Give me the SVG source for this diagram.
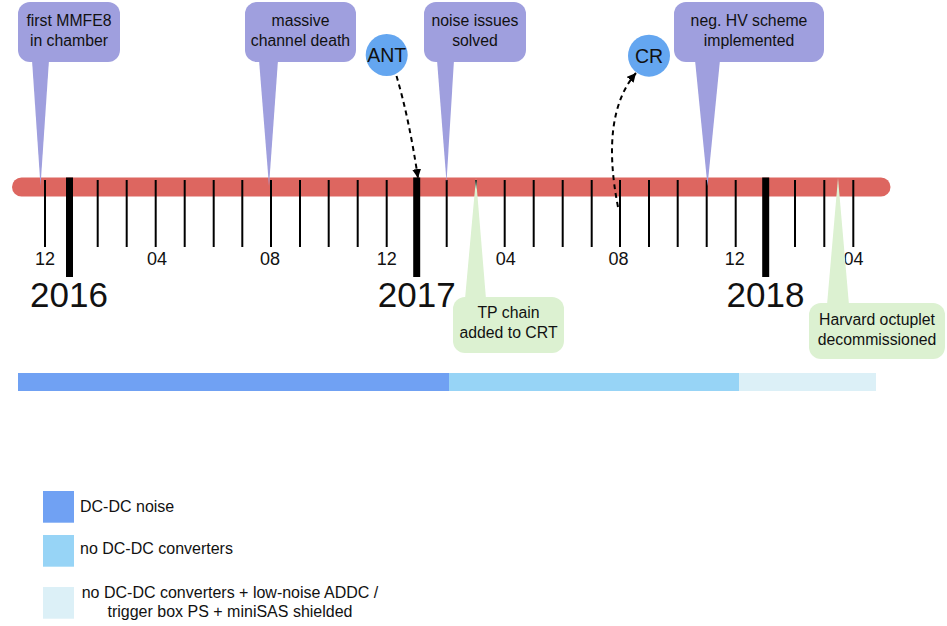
<svg xmlns="http://www.w3.org/2000/svg" width="947" height="626" viewBox="0 0 947 626">
<style>
text{font-family:"Liberation Sans",Arial,sans-serif;fill:#111}
.ct{font-size:15.8px;text-anchor:middle}
.pu{fill:#9F9FDE}
.gr{fill:#DCF1D1}
.tk{stroke:#000;stroke-width:2}
.ty{stroke:#000;stroke-width:7}
.mo{font-size:18px;text-anchor:middle}
.yr{font-size:35px;text-anchor:middle}
.lg{font-size:16px}
.dash{fill:none;stroke:#000;stroke-width:2;stroke-dasharray:5,4}
.circ{fill:#64A6F0}
</style>
<defs>
<marker id="ah" viewBox="0 0 10 10" refX="10" refY="5" markerWidth="4.5" markerHeight="4.5" orient="auto" markerUnits="strokeWidth">
<path d="M0,0 L10,5 L0,10 z" fill="#000"/>
</marker>
</defs>
<g id="timeline">
<rect x="12" y="177.5" width="878.5" height="19" rx="9.5" fill="#DD6660"/>
<g id="ticks">
<line class="tk" x1="45" y1="180" x2="45" y2="247"/>
<line class="tk" x1="97.7" y1="180" x2="97.7" y2="247"/>
<line class="tk" x1="126.7" y1="180" x2="126.7" y2="247"/>
<line class="tk" x1="155.7" y1="180" x2="155.7" y2="247"/>
<line class="tk" x1="184.7" y1="180" x2="184.7" y2="247"/>
<line class="tk" x1="213.7" y1="180" x2="213.7" y2="247"/>
<line class="tk" x1="242.3" y1="180" x2="242.3" y2="247"/>
<line class="tk" x1="271" y1="180" x2="271" y2="247"/>
<line class="tk" x1="300" y1="180" x2="300" y2="247"/>
<line class="tk" x1="328.7" y1="180" x2="328.7" y2="247"/>
<line class="tk" x1="357.7" y1="180" x2="357.7" y2="247"/>
<line class="tk" x1="386.7" y1="180" x2="386.7" y2="247"/>
<line class="tk" x1="446.7" y1="180" x2="446.7" y2="247"/>
<line class="tk" x1="476" y1="180" x2="476" y2="247"/>
<line class="tk" x1="504.7" y1="180" x2="504.7" y2="247"/>
<line class="tk" x1="533.7" y1="180" x2="533.7" y2="247"/>
<line class="tk" x1="562.7" y1="180" x2="562.7" y2="247"/>
<line class="tk" x1="591.7" y1="180" x2="591.7" y2="247"/>
<line class="tk" x1="620" y1="180" x2="620" y2="247"/>
<line class="tk" x1="649" y1="180" x2="649" y2="247"/>
<line class="tk" x1="677.7" y1="180" x2="677.7" y2="247"/>
<line class="tk" x1="706.7" y1="180" x2="706.7" y2="247"/>
<line class="tk" x1="735.7" y1="180" x2="735.7" y2="247"/>
<line class="tk" x1="795" y1="180" x2="795" y2="247"/>
<line class="tk" x1="824.3" y1="180" x2="824.3" y2="247"/>
<line class="tk" x1="853.3" y1="180" x2="853.3" y2="247"/>
<line class="ty" x1="69.5" y1="177.5" x2="69.5" y2="277"/>
<line class="ty" x1="416.7" y1="177.5" x2="416.7" y2="277"/>
<line class="ty" x1="765.7" y1="177.5" x2="765.7" y2="277"/>
</g>
<g id="month-labels">
<text class="mo" x="45" y="264.5">12</text>
<text class="mo" x="157" y="264.5">04</text>
<text class="mo" x="270" y="264.5">08</text>
<text class="mo" x="386.7" y="264.5">12</text>
<text class="mo" x="505.8" y="264.5">04</text>
<text class="mo" x="618.5" y="264.5">08</text>
<text class="mo" x="734.7" y="264.5">12</text>
<text class="mo" x="853.5" y="264.5">04</text>
</g>
<g id="year-labels">
<text class="yr" x="69" y="306.5">2016</text>
<text class="yr" x="416.7" y="306.5">2017</text>
<text class="yr" x="765.5" y="306.5">2018</text>
</g>
</g>
<g id="connectors">
<path class="dash" d="M396.5,76 Q409,118 418,178" marker-end="url(#ah)"/>
<path class="dash" d="M618,207 Q600,115 636,73" marker-end="url(#ah)"/>
</g>
<g id="callout-mmfe8">
<rect class="pu" x="18" y="2" width="102" height="60" rx="12"/>
<polygon class="pu" points="32,60 49,60 40.5,186"/>
<text class="ct" x="69" y="26">first MMFE8</text>
<text class="ct" x="69" y="45.5">in chamber</text>
</g>
<g id="callout-channel-death">
<rect class="pu" x="245" y="2" width="111" height="60" rx="12"/>
<polygon class="pu" points="259,60 278,60 269,186"/>
<text class="ct" x="300.5" y="26">massive</text>
<text class="ct" x="300.5" y="45.5">channel death</text>
</g>
<g id="callout-noise">
<rect class="pu" x="424" y="2" width="102" height="60" rx="12"/>
<polygon class="pu" points="437,60 454,60 446.5,182"/>
<text class="ct" x="475" y="26">noise issues</text>
<text class="ct" x="475" y="45.5">solved</text>
</g>
<g id="callout-hv">
<rect class="pu" x="674" y="2" width="150" height="60" rx="12"/>
<polygon class="pu" points="695,60 720,60 707.5,186"/>
<text class="ct" x="749" y="26">neg. HV scheme</text>
<text class="ct" x="749" y="45.5">implemented</text>
</g>
<g id="callout-tp">
<rect class="gr" x="453" y="297" width="111" height="56" rx="12"/>
<polygon class="gr" points="465,299 486,299 476,178"/>
<text class="ct" x="508.5" y="318">TP chain</text>
<text class="ct" x="508.5" y="337.5">added to CRT</text>
</g>
<g id="callout-harvard">
<rect class="gr" x="809" y="303" width="136" height="56" rx="12"/>
<polygon class="gr" points="827,305 849,305 838,178"/>
<text class="ct" x="877" y="325">Harvard octuplet</text>
<text class="ct" x="877" y="344.5">decommissioned</text>
</g>
<g id="node-ant">
<circle class="circ" cx="386.7" cy="55" r="21"/>
<text x="386.7" y="62" font-size="19.5" text-anchor="middle">ANT</text>
</g>
<g id="node-cr">
<circle class="circ" cx="649" cy="55.7" r="21"/>
<text x="649" y="62.7" font-size="19.5" text-anchor="middle">CR</text>
</g>
<g id="status-bar">
<rect x="18" y="373" width="431" height="18" fill="#70A1F3"/>
<rect x="449" y="373" width="290" height="18" fill="#97D4F6"/>
<rect x="739" y="373" width="137" height="18" fill="#DCF0F7"/>
</g>
<g id="legend">
<rect x="43" y="491" width="31" height="31.7" fill="#70A1F3"/>
<text class="lg" x="80" y="512.3">DC-DC noise</text>
<rect x="43" y="535" width="31" height="31.7" fill="#97D4F6"/>
<text class="lg" x="80" y="553.5">no DC-DC converters</text>
<rect x="43" y="587" width="31" height="31.7" fill="#DCF0F7"/>
<text class="lg" x="230" y="598.3" text-anchor="middle">no DC-DC converters + low-noise ADDC /</text>
<text class="lg" x="230" y="616.7" text-anchor="middle">trigger box PS + miniSAS shielded</text>
</g>
</svg>
